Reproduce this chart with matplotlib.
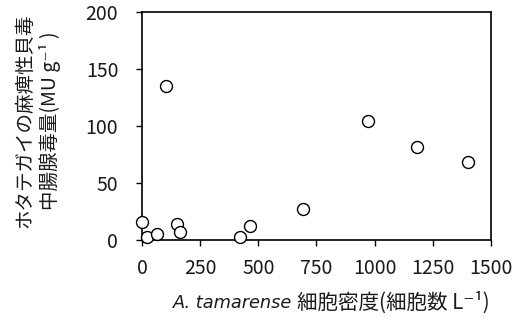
import matplotlib
matplotlib.use("Agg")
import matplotlib.pyplot as plt

plt.rcParams['font.family'] = ['Noto Sans CJK JP', 'DejaVu Sans']

# cell density (cells/L) vs PSP toxin in scallop midgut gland (MU/g)
cell_density = [0, 22, 62, 100, 149, 162, 420, 462, 690, 970, 1181, 1402]
toxin = [15.5, 2.3, 5, 135, 13.7, 7.3, 2.3, 12.3, 27.4, 104, 81.5, 68]

x_ticks = [0, 250, 500, 750, 1000, 1250, 1500]
y_ticks = [0, 50, 100, 150, 200]

W, H = 522, 322
fig = plt.figure(figsize=(W / 100, H / 100), dpi=100)
ax = fig.add_axes([0.2726, 0.2547, 0.6674, 0.709])

ax.plot(cell_density, toxin, linestyle='None', marker='o', markersize=8.6,
        markerfacecolor='white', markeredgecolor='black', markeredgewidth=1.0,
        clip_on=False, zorder=3)

ax.set_xlim(0, 1500)
ax.set_ylim(0, 200)
ax.set_xticks(x_ticks)
ax.set_yticks(y_ticks)
ax.tick_params(direction='out', length=4.3, width=1.0, labelsize=14,
               color='black', labelcolor='#1a1a1a')
ax.tick_params(axis='y', pad=13)
ax.tick_params(axis='x', pad=8.5)
for s in ax.spines.values():
    s.set_linewidth(1.2)
    s.set_color('black')

# x label: italic species name + Japanese text, centred together
t1 = fig.text(0, 1 - 303 / H, 'A. tamarense', ha='left', va='center',
              family=['DejaVu Sans'], style='italic', fontsize=12.8, color='#1a1a1a')
t2 = fig.text(0, 1 - 303 / H, '細胞密度(細胞数 L⁻¹)', ha='left', va='center',
              fontsize=14.8, color='#1a1a1a')
r = fig.canvas.get_renderer()
w1 = t1.get_window_extent(r).width
w2 = t2.get_window_extent(r).width
gap = 5
x0 = 331.5 - (w1 + gap + w2) / 2
t1.set_x(x0 / W)
t2.set_x((x0 + w1 + gap) / W)

# y label, two lines
fig.text(25 / W, 1 - 121 / H, 'ホタテガイの麻痺性貝毒', rotation=90, ha='center', va='center',
         fontsize=14, color='#1a1a1a')
fig.text(50 / W, 1 - 121 / H, '中腸腺毒量(MU g⁻¹ )', rotation=90, ha='center', va='center',
         fontsize=14, color='#1a1a1a')

fig.savefig('out.png', dpi=100)
